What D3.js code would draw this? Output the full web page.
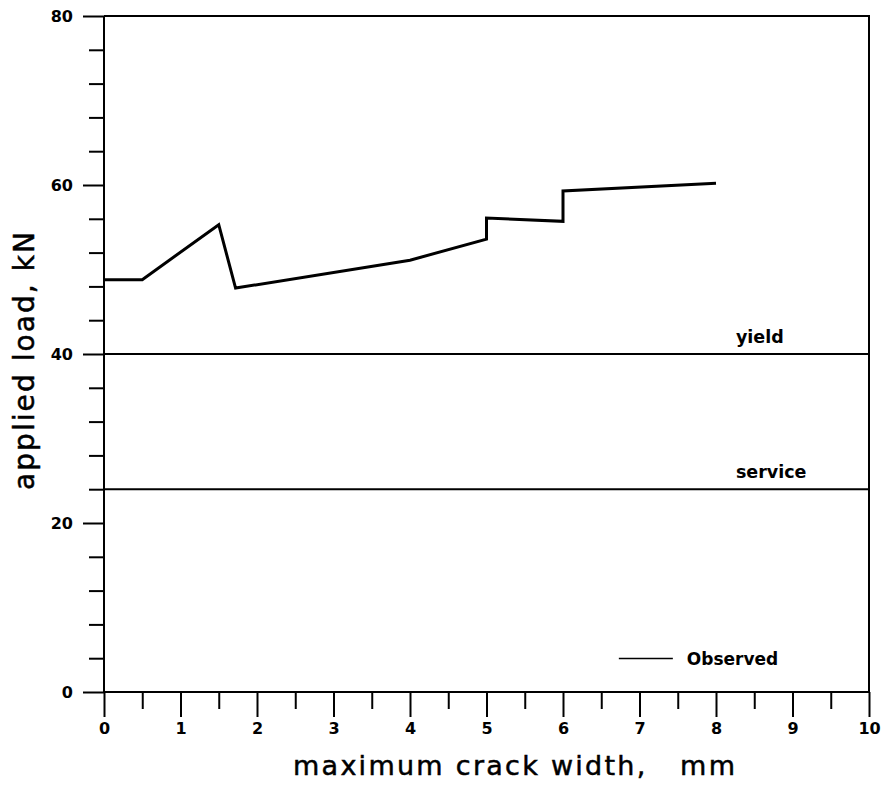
<!DOCTYPE html>
<html>
<head>
<meta charset="utf-8">
<script src="https://cdn.jsdelivr.net/npm/d3@7/dist/d3.min.js"></script>
<style>
  html, body { margin: 0; padding: 0; background: #fff; }
  svg { display: block; }
</style>
</head>
<body>
<svg id="chart" width="883" height="786"></svg>
<script>
// Observed load vs. maximum crack width
const crackWidth = [0, 0.5, 1.5, 1.72, 4.0, 5.0, 5.0, 6.0, 6.0, 8.0];
const appliedLoad = [48.8, 48.8, 55.3, 47.8, 51.1, 53.6, 56.1, 55.7, 59.3, 60.2];

// Reference load levels
const refLevels = [
  { name: "yield", load: 40 },
  { name: "service", load: 24 }
];

const xTickLabels = [0, 1, 2, 3, 4, 5, 6, 7, 8, 9, 10];
const yTickLabels = [0, 20, 40, 60, 80];
const xMinorTicks = d3.range(0.5, 10, 1);
const yMinorTicks = [4, 8, 12, 16, 24, 28, 32, 36, 44, 48, 52, 56, 64, 68, 72, 76];

const legendLabel = "Observed";
const xTitle = "maximum crack width,   mm";
const yTitle = "applied load, kN";

const svg = d3.select("#chart");
const plot = { left: 104, right: 869, top: 16, bottom: 692 };

const x = d3.scaleLinear().domain([0, 10]).range([plot.left, plot.right]);
const y = d3.scaleLinear().domain([0, 80]).range([plot.bottom, plot.top]);

const tickFont = "'DejaVu Sans', sans-serif";

// frame: top and right borders
svg.append("path")
  .attr("d", `M${plot.left},${plot.top}H${plot.right}V${plot.bottom}`)
  .attr("fill", "none").attr("stroke", "#000").attr("stroke-width", 2);

// x axis: major ticks with labels, minor ticks at half millimetres
const xAxis = svg.append("g").attr("transform", `translate(0,${plot.bottom})`)
  .call(d3.axisBottom(x).tickValues(xTickLabels).tickSize(25).tickPadding(6).tickFormat(d3.format("d")));
const xMinor = svg.append("g").attr("transform", `translate(0,${plot.bottom})`)
  .call(d3.axisBottom(x).tickValues(xMinorTicks).tickSize(17).tickFormat(""));

// y axis: labelled ticks every 20 kN, minor every 4 kN
const yAxis = svg.append("g").attr("transform", `translate(${plot.left},0)`)
  .call(d3.axisLeft(y).tickValues(yTickLabels).tickSize(21).tickPadding(10).tickFormat(d3.format("d")));
const yMinor = svg.append("g").attr("transform", `translate(${plot.left},0)`)
  .call(d3.axisLeft(y).tickValues(yMinorTicks).tickSize(15).tickFormat(""));

[xAxis, xMinor].forEach(g => g.select(".domain").attr("d", `M${plot.left},0H${plot.right}`));
[yAxis, yMinor].forEach(g => g.select(".domain").attr("d", `M0,${plot.top}V${plot.bottom}`));

[xAxis, xMinor, yAxis, yMinor].forEach(g => {
  g.select(".domain").attr("stroke", "#000").attr("stroke-width", 2);
  g.selectAll(".tick line").attr("stroke", "#000").attr("stroke-width", 2);
  g.selectAll(".tick text")
    .attr("fill", "#000")
    .style("font-family", tickFont)
    .style("font-weight", "bold")
    .style("font-size", "16px");
});

// reference load lines with their labels
svg.append("g").selectAll("line").data(refLevels).join("line")
  .attr("x1", plot.left).attr("x2", plot.right)
  .attr("y1", d => y(d.load)).attr("y2", d => y(d.load))
  .attr("stroke", "#000").attr("stroke-width", 2);

svg.append("g").selectAll("text").data(refLevels).join("text")
  .attr("x", x(8.26)).attr("y", d => y(d.load) - 11)
  .style("font-family", tickFont).style("font-weight", "bold").style("font-size", "17.5px")
  .text(d => d.name);

// observed curve
const line = d3.line().x((d, i) => x(crackWidth[i])).y(d => y(d));
svg.append("path")
  .datum(appliedLoad)
  .attr("d", line)
  .attr("fill", "none").attr("stroke", "#000").attr("stroke-width", 3)
  .attr("stroke-linejoin", "miter");

// legend
const lg = svg.append("g").attr("transform", `translate(${x(6.73)},${y(3.95)})`);
lg.append("line").attr("x1", 0).attr("x2", 54).attr("y1", 0).attr("y2", 0)
  .attr("stroke", "#000").attr("stroke-width", 1.5);
lg.append("text").attr("x", 68).attr("y", 6)
  .style("font-family", tickFont).style("font-weight", "bold").style("font-size", "17px")
  .text(legendLabel);

// axis titles
svg.append("text")
  .attr("x", 293).attr("y", 775)
  .attr("textLength", 442).attr("lengthAdjust", "spacing")
  .style("white-space", "pre")
  .style("font-family", "'DejaVu Sans', sans-serif").style("font-size", "27px")
  .attr("stroke", "#000").attr("stroke-width", 0.5)
  .text(xTitle);

svg.append("text")
  .attr("transform", `translate(34,490) rotate(-90)`)
  .attr("textLength", 258).attr("lengthAdjust", "spacing")
  .style("font-family", "'DejaVu Sans', sans-serif").style("font-size", "28px")
  .attr("stroke", "#000").attr("stroke-width", 0.5)
  .text(yTitle);
</script>
</body>
</html>
